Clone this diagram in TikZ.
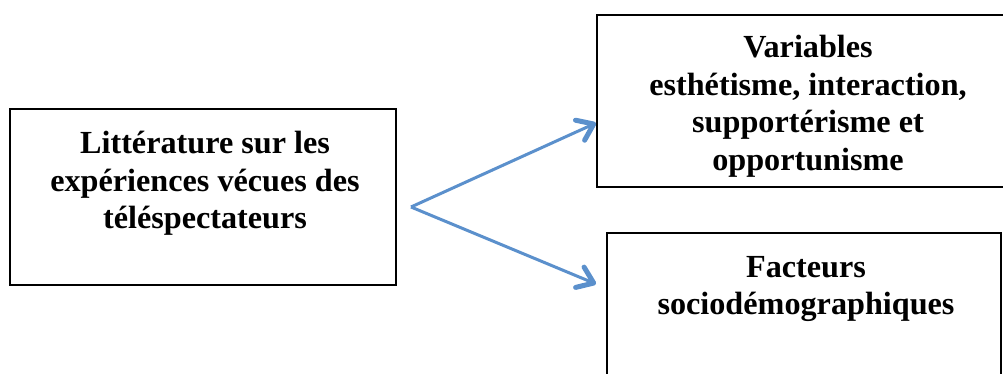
\documentclass[tikz,border=0pt]{standalone}
\usepackage{fontspec}
\setmainfont{Liberation Serif}
\usetikzlibrary{arrows.meta}
\definecolor{arrowblue}{RGB}{91,144,204}
\begin{document}
\begin{tikzpicture}[x=1pt,y=1pt,
  boxstyle/.style={draw=black,line width=2pt},
  txt/.style={font=\fontsize{32.2}{37.5}\selectfont\bfseries,align=center,inner sep=0pt,anchor=north},
  conn/.style={draw=arrowblue,line width=3pt,-{Straight Barb[length=15pt,width=22pt,line width=5pt,round]}}]
\useasboundingbox (0,0) rectangle (1003,374);
\begin{scope}
\clip (0,0) rectangle (1003,374);
\draw[boxstyle] (10,89) rectangle (396,265);
\draw[boxstyle] (597,187) rectangle (1010,359);
\draw[boxstyle] (607,-10) rectangle (1001,141);
\end{scope}
\coordinate (t1) at (596,251);
\coordinate (b1) at (596,90);
\coordinate (s) at (411,167);
\node[txt] (ltext) at (205,243) {Littérature sur les\\expériences vécues des\\téléspectateurs};
\node[txt] (rtext) at (808,339) {Variables\\esthétisme, interaction,\\supportérisme et\\opportunisme};
\node[txt] (btext) at (806,118) {Facteurs\\sociodémographiques};
\draw[conn] (s) -- (t1);
\draw[conn] (s) -- (b1);
\end{tikzpicture}
\end{document}
